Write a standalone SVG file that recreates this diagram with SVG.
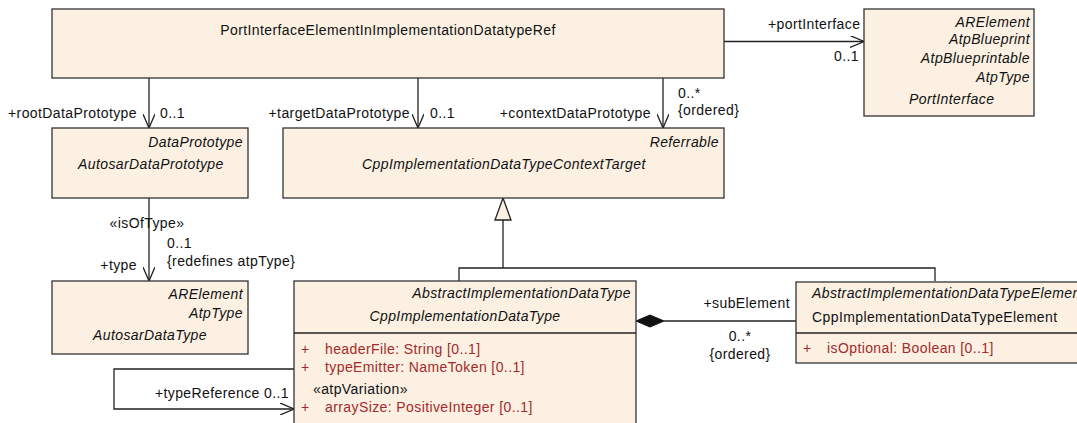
<svg xmlns="http://www.w3.org/2000/svg" width="1077" height="423" viewBox="0 0 1077 423">
<defs>
<style>
.box{fill:#FBF0E2;stroke:#333;stroke-width:1.3}
.ln{fill:none;stroke:#222;stroke-width:1.3}
text{font-family:"Liberation Sans",Arial,sans-serif;font-size:14px;letter-spacing:0.4px;fill:#111}
.i{font-style:italic}
.r{text-anchor:end}
.m{text-anchor:middle}
.a{fill:#A52A2A}
</style>
<marker id="open" viewBox="0 0 14 12" refX="14" refY="6" markerWidth="14" markerHeight="12" markerUnits="userSpaceOnUse" orient="auto">
<path d="M0,0 L14,6 L0,12" fill="none" stroke="#222" stroke-width="1.3"/>
</marker>
</defs>
<rect width="1077" height="423" fill="#fff"/>

<g id="connectors">
<path class="ln" d="M724,41.5 H864" marker-end="url(#open)"/>
<text x="768" y="29">+portInterface</text>
<text x="834" y="61">0..1</text>

<path class="ln" d="M149,78 V128" marker-end="url(#open)"/>
<text class="r" x="137" y="118">+rootDataPrototype</text>
<text x="160" y="118">0..1</text>

<path class="ln" d="M418,78 V128" marker-end="url(#open)"/>
<text class="r" x="410" y="118">+targetDataPrototype</text>
<text x="430" y="118">0..1</text>

<path class="ln" d="M663,78 V128" marker-end="url(#open)"/>
<text class="r" x="651" y="118">+contextDataPrototype</text>
<text x="678" y="98">0..*</text>
<text x="678" y="115">{ordered}</text>

<path class="ln" d="M149,198 V281" marker-end="url(#open)"/>
<text class="m" x="147" y="228">«isOfType»</text>
<text x="167" y="248">0..1</text>
<text x="167" y="266">{redefines atpType}</text>
<text class="r" x="137" y="270">+type</text>

<path class="ln" d="M503,220 V268 M459,281 V268 H935 V281"/>
<path d="M503,198 L511,220 L495,220 Z" fill="#FBF0E2" stroke="#222" stroke-width="1.3"/>

<path class="ln" d="M664,321 H796"/>
<path d="M636,321 L650,315 L664,321 L650,327 Z" fill="#111" stroke="#111"/>
<text class="r" x="790" y="308">+subElement</text>
<text class="m" x="740" y="341">0..*</text>
<text class="m" x="740" y="359">{ordered}</text>

<path class="ln" d="M294,369 H114 V409 H294" marker-end="url(#open)"/>
<text class="r" x="289" y="398">+typeReference 0..1</text>
</g>

<g id="PortInterfaceElementInImplementationDatatypeRef">
<rect class="box" x="52" y="9" width="672" height="69"/>
<text class="m" x="388" y="35">PortInterfaceElementInImplementationDatatypeRef</text>
</g>

<g id="PortInterface">
<rect class="box" x="864" y="9" width="170" height="107"/>
<text class="i r" x="1030" y="27">ARElement</text>
<text class="i r" x="1030" y="44">AtpBlueprint</text>
<text class="i r" x="1030" y="63">AtpBlueprintable</text>
<text class="i r" x="1030" y="82">AtpType</text>
<text class="i" x="909" y="104">PortInterface</text>
</g>

<g id="AutosarDataPrototype">
<rect class="box" x="52" y="128" width="196" height="70"/>
<text class="i r" x="243" y="147">DataPrototype</text>
<text class="i" x="78" y="169">AutosarDataPrototype</text>
</g>

<g id="CppImplementationDataTypeContextTarget">
<rect class="box" x="283" y="128" width="441" height="70"/>
<text class="i r" x="719" y="147">Referrable</text>
<text class="i" x="362" y="169">CppImplementationDataTypeContextTarget</text>
</g>

<g id="AutosarDataType">
<rect class="box" x="52" y="281" width="196" height="73"/>
<text class="i r" x="243" y="299">ARElement</text>
<text class="i r" x="243" y="318">AtpType</text>
<text class="i" x="93" y="340">AutosarDataType</text>
</g>

<g id="CppImplementationDataType">
<rect class="box" x="294" y="281" width="342" height="150"/>
<path class="ln" d="M294,333 H636"/>
<text class="i r" x="631" y="298">AbstractImplementationDataType</text>
<text class="i m" x="465" y="321">CppImplementationDataType</text>
<text class="a" x="301" y="354">+</text>
<text class="a" x="325" y="354">headerFile: String [0..1]</text>
<text class="a" x="301" y="372">+</text>
<text class="a" x="325" y="372">typeEmitter: NameToken [0..1]</text>
<text x="313" y="394">«atpVariation»</text>
<text class="a" x="301" y="412">+</text>
<text class="a" x="325" y="412">arraySize: PositiveInteger [0..1]</text>
</g>

<g id="CppImplementationDataTypeElement">
<rect class="box" x="796" y="282" width="300" height="81"/>
<path class="ln" d="M796,333 H1096"/>
<text class="i" x="812" y="298">AbstractImplementationDataTypeElement</text>
<text x="812" y="322">CppImplementationDataTypeElement</text>
<text class="a" x="803" y="353">+</text>
<text class="a" x="827" y="353">isOptional: Boolean [0..1]</text>
</g>
</svg>
